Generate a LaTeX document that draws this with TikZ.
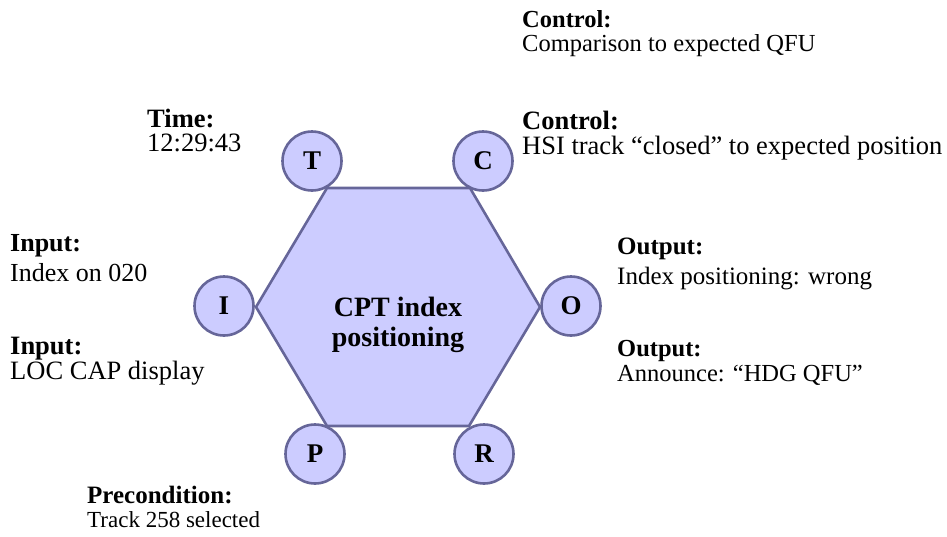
\documentclass[tikz,border=0pt]{standalone}
\usepackage{fontspec}
\setmainfont{Liberation Serif}
\definecolor{hexfill}{HTML}{CCCCFF}
\definecolor{hexline}{HTML}{666699}
\begin{document}
\begin{tikzpicture}[x=1pt,y=-1pt,
    corner/.style={circle,draw=hexline,fill=hexfill,line width=2.6pt,minimum size=59pt,inner sep=0pt,font=\fontsize{27}{27}\selectfont\bfseries},
    note/.style={anchor=north west,align=left,inner sep=0pt}]
      \useasboundingbox (0,0) rectangle (947,536);
      \coordinate (h1) at (256,307);
      \coordinate (h2) at (327,188);
      \coordinate (h3) at (470,188);
      \coordinate (h4) at (540,307);
      \coordinate (h5) at (469,426);
      \coordinate (h6) at (327,426);

      \draw[line width=2.6pt,draw=hexline,fill=hexfill] (h1) -- (h2) -- (h3) -- (h4) -- (h5) -- (h6) -- cycle;
      \node[align=center,font=\fontsize{28}{30}\selectfont\bfseries] (task) at (398,325) {CPT index\\positioning};

      \node[corner] (t) at (312,161) {T};
      \node[corner] (c) at (483,161) {C};
      \node[corner] (i) at (224,306) {I};
      \node[corner] (o) at (571,306) {O};
      \node[corner] (p) at (315,454) {P};
      \node[corner] (r) at (484,454) {R};

      \node[note,font=\fontsize{24.5}{24}\selectfont] (ctlq) at (522,10.3) {\textbf{Control:}\\Comparison to expected QFU};
      \node[note,font=\fontsize{26.5}{25}\selectfont] (ctlh) at (522,111) {\textbf{Control:}\\HSI track “closed” to expected position};
      \node[note,font=\fontsize{26.5}{24}\selectfont] (time) at (147,109) {\textbf{Time:}\\12:29:43};
      \node[note,font=\fontsize{26}{30}\selectfont] (inidx) at (10,234) {\textbf{Input:}\\Index on 020};
      \node[note,font=\fontsize{26.5}{25}\selectfont] (inloc) at (10,337) {\textbf{Input:}\\LOC CAP display};
      \node[note,font=\fontsize{25}{30.5}\selectfont] (outidx) at (617,237.5) {\textbf{Output:}\\Index positioning: wrong};
      \node[note,font=\fontsize{24.5}{25}\selectfont] (outann) at (617,340) {\textbf{Output:}\\Announce: “HDG QFU”};
      \node[note,font=\fontsize{23}{24}\selectfont] (pre) at (87,485.7) {\fontsize{25}{24}\selectfont\textbf{Precondition:}\\Track 258 selected};
    \end{tikzpicture}
\end{document}
